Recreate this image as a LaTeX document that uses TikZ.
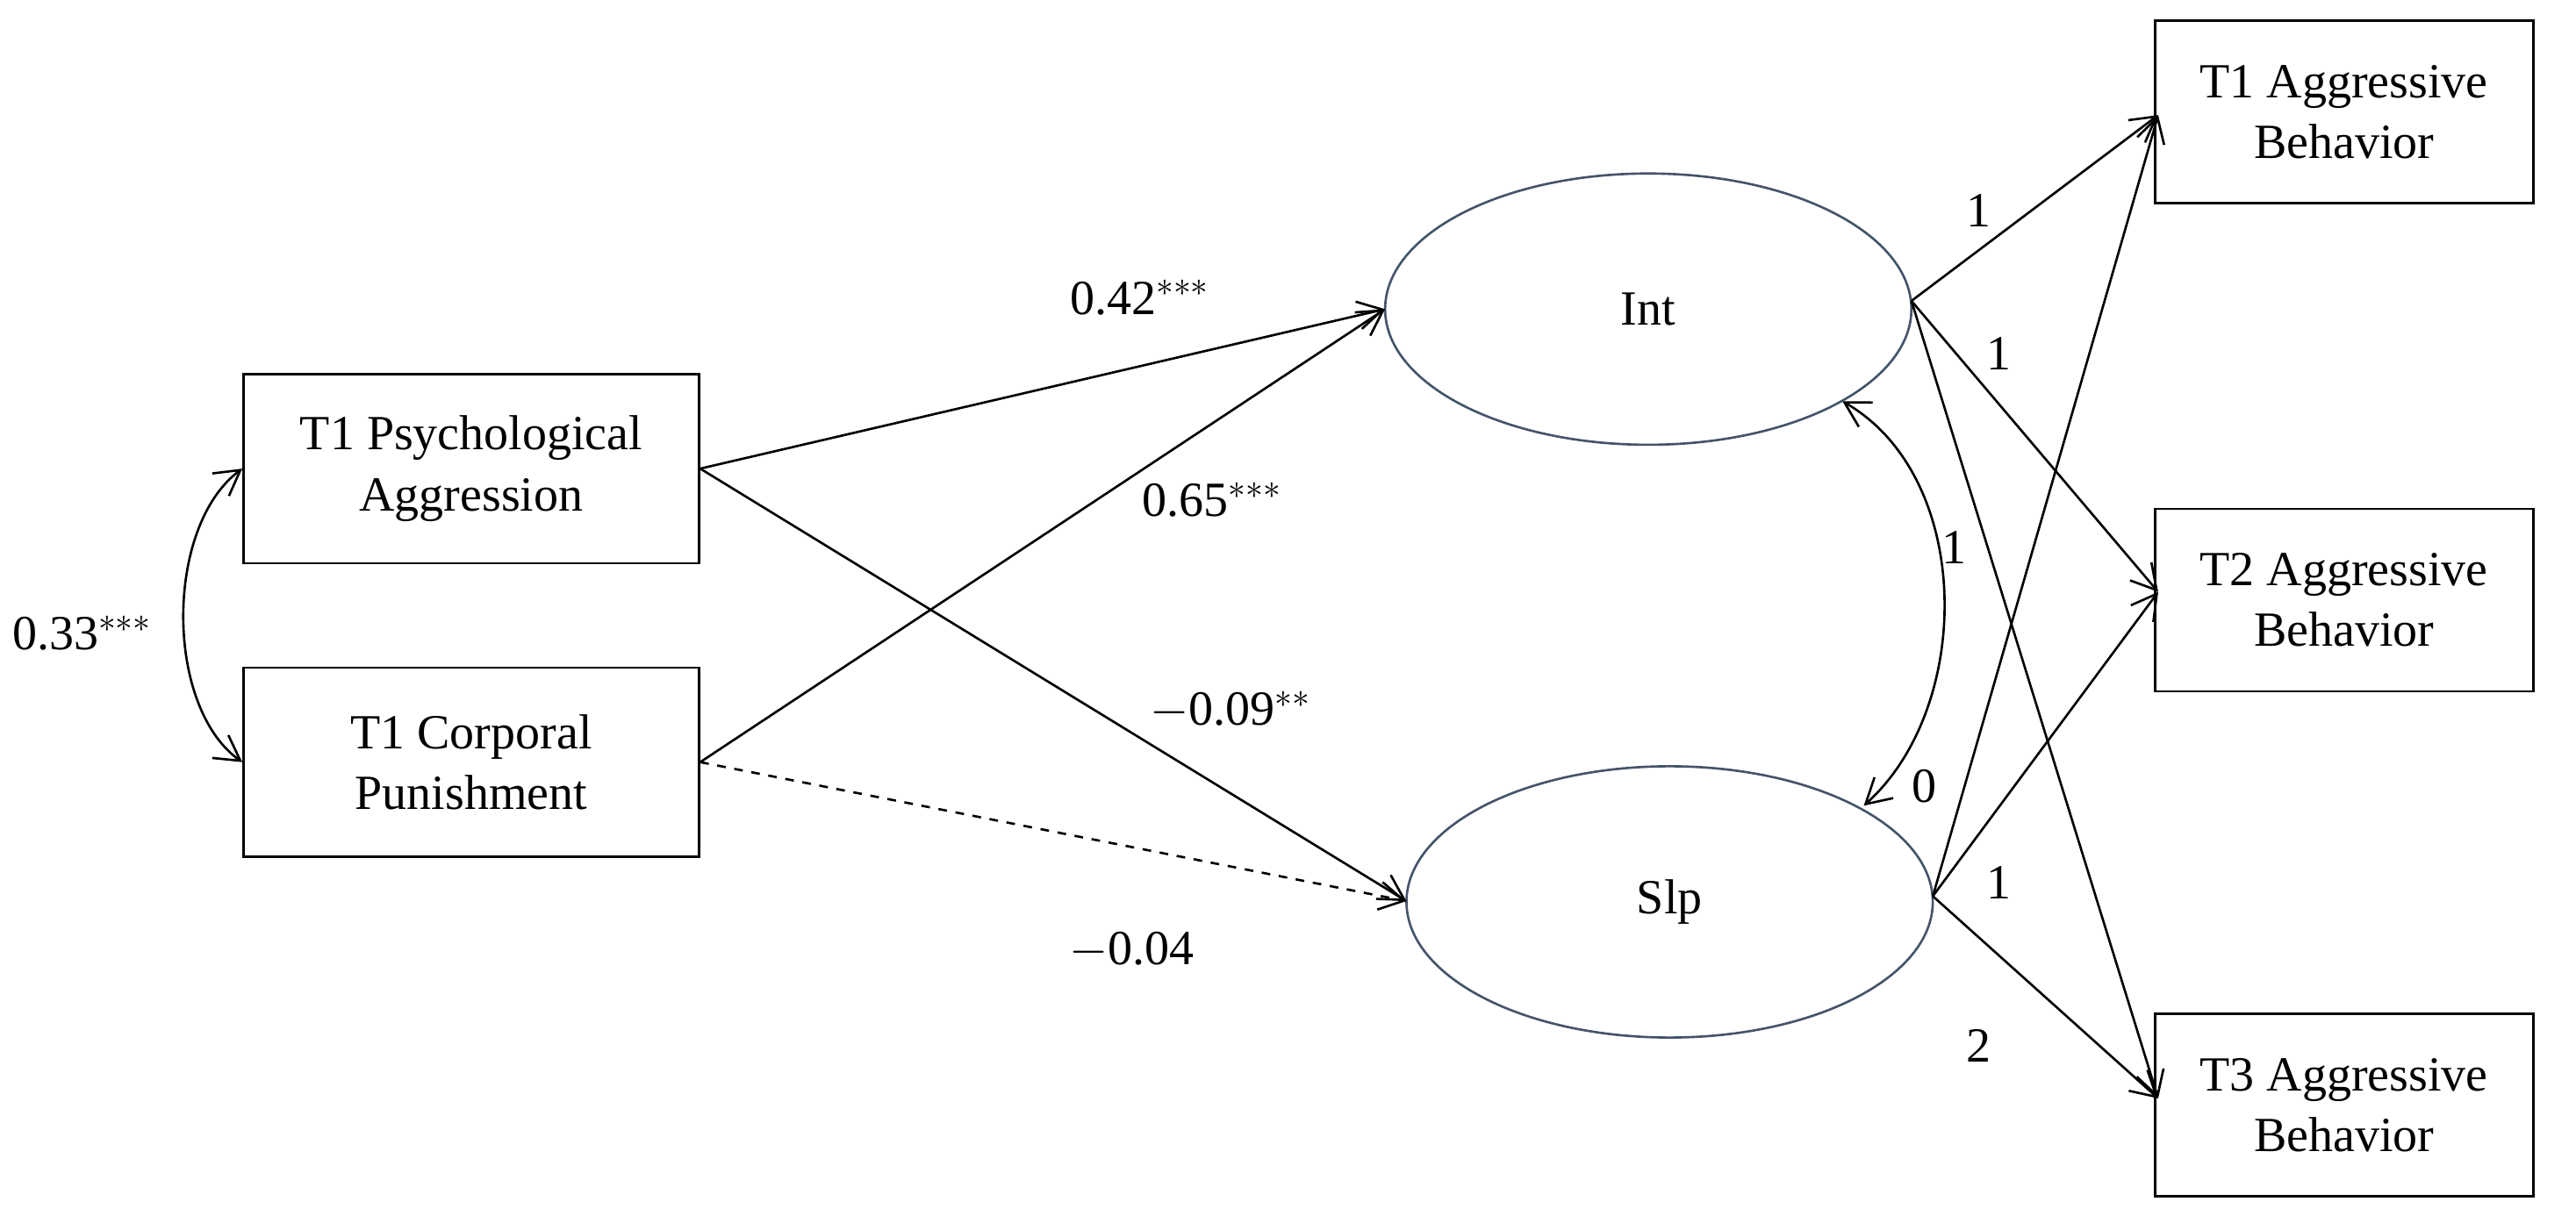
\documentclass[tikz,border=0pt]{standalone}
\usepackage{fontspec}
\setmainfont{Liberation Serif}
\usetikzlibrary{arrows.meta,shapes.geometric}
\definecolor{ellc}{HTML}{44546A}
\begin{document}
\begin{tikzpicture}[x=0.02cm,y=-0.02cm,
  every node/.style={font=\fontsize{17}{21}\selectfont},
  obs/.style={draw,thick,rectangle,minimum width=5.54cm,minimum height=2.3cm,align=center,inner sep=0pt},
  obsr/.style={draw,thick,rectangle,minimum width=4.6cm,minimum height=2.22cm,align=center,inner sep=0pt},
  lat/.style={draw=ellc,thick,ellipse,minimum width=6.4cm,minimum height=3.3cm,inner sep=0pt},
  path/.style={thick,-{Straight Barb[length=3mm,width=3.4mm]}},
  lab/.style={inner sep=1pt}]
\useasboundingbox (0,0) rectangle (1566,739);
\node[obs] (pa) at (286.5,285) {T1 Psychological\\Aggression};
\node[obs] (cp) at (286.5,463.5) {T1 Corporal\\Punishment};
\node[lat] (int) at (1002,188) {Int};
\node[lat] (slp) at (1015,548.5) {Slp};
\node[obsr] (a1) at (1425,68) {T1 Aggressive\\Behavior};
\node[obsr] (a2) at (1425,365) {T2 Aggressive\\Behavior};
\node[obsr] (a3) at (1425,672) {T3 Aggressive\\Behavior};
\coordinate (int1) at (842,188);
\coordinate (int2) at (1162,183);
\coordinate (slp1) at (855,548);
\coordinate (slp2) at (1175,545);
\coordinate (a1w) at (1312,70);
\coordinate (a2w) at (1312,360);
\coordinate (a3w) at (1312,668);
\draw[path] (pa.east) -- (int1);
\draw[path] (pa.east) -- (slp1);
\draw[path] (cp.east) -- (int1);
\draw[path,dashed] (cp.east) -- (slp1);
\draw[path] (int2) -- (a1w);
\draw[path] (int2) -- (a2w);
\draw[path] (int2) -- (a3w);
\draw[path] (slp2) -- (a1w);
\draw[path] (slp2) -- (a2w);
\draw[path] (slp2) -- (a3w);
\coordinate (ci) at (1120,244);
\coordinate (cs) at (1133,490);
\draw[thick,{Straight Barb[length=3mm,width=3.4mm]}-{Straight Barb[length=3mm,width=3.4mm]}] (ci) .. controls (1200,290) and (1200,430) .. (cs);
\draw[thick,{Straight Barb[length=3mm,width=3.4mm]}-{Straight Barb[length=3mm,width=3.4mm]}] (pa.west) .. controls (100,320) and (100,430) .. (cp.west);
\node[lab] (l1) at (693,181) {0.42$^{***}$};
\node[lab] (l2) at (737,304) {0.65$^{***}$};
\node[lab] (l3) at (748,432) {$-$0.09$^{**}$};
\node[lab] (l4) at (688,578) {$-$0.04};
\node[lab] (l5) at (50,385) {0.33$^{***}$};
\node[lab] (n1) at (1203,128) {1};
\node[lab] (n2) at (1215,215) {1};
\node[lab] (n3) at (1188,333) {1};
\node[lab] (n4) at (1170,478) {0};
\node[lab] (n5) at (1215,537) {1};
\node[lab] (n6) at (1203,636) {2};
\end{tikzpicture}
\end{document}
